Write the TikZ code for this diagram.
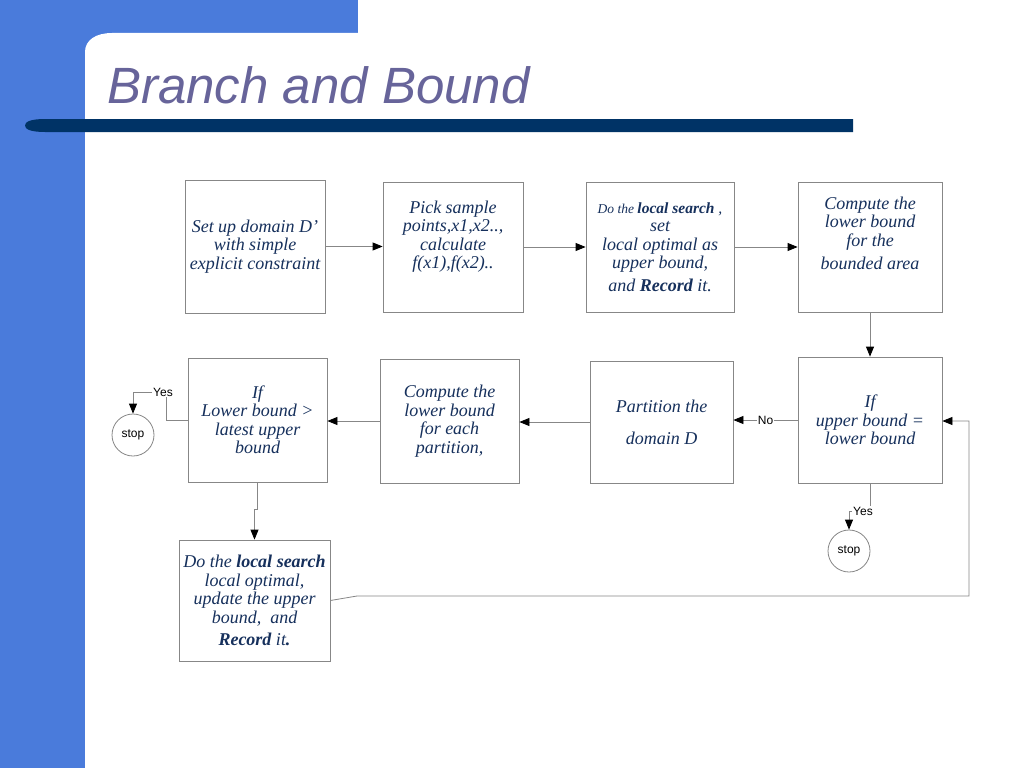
\documentclass[tikz,border=0pt]{standalone}
\usepackage{fontspec}
\setmainfont{Liberation Serif}
\setsansfont{Liberation Sans}
\usetikzlibrary{arrows.meta}
\definecolor{slideblue}{RGB}{74,123,219}
\definecolor{barnavy}{RGB}{0,51,102}
\definecolor{titlegrey}{RGB}{103,100,154}
\definecolor{boxtext}{RGB}{22,48,92}
\definecolor{edge}{RGB}{135,135,135}
\tikzset{box/.style={draw=edge, line width=0.8pt, align=center, text=boxtext, inner sep=0pt,
                     font=\fontsize{18}{18.5}\selectfont\itshape},
         txt/.style={align=center, text=boxtext, inner sep=0pt, font=\fontsize{18}{18.5}\selectfont\itshape},
         stopnode/.style={circle, draw=edge, line width=0.8pt, minimum size=42pt, inner sep=0pt,
                          font=\sffamily\fontsize{12}{14}\selectfont},
         lbl/.style={fill=white, inner sep=1pt, font=\sffamily\fontsize{12}{14}\selectfont},
         link/.style={draw=edge, line width=0.8pt},
         arr/.style={link, -{Triangle[length=10pt,width=8pt,color=black]}}}

\begin{document}
\begin{tikzpicture}[x=1pt,y=-1pt]
  \useasboundingbox (0,0) rectangle (1024,768);
  % slide background
  \fill[slideblue] (0,0) rectangle (85,768);
  \fill[slideblue] (0,0) rectangle (358,60);
  \fill[white] (85,768) -- (85,52) .. controls (85,40) and (96,33) .. (112,33) -- (1024,33) -- (1024,768) -- cycle;
  \fill[barnavy] (853,119) -- (45,119) .. controls (30,119) and (25,122) .. (25,125.5)
                 .. controls (25,129) and (30,132) .. (45,132) -- (853,132) -- cycle;
  \node[font=\sffamily\itshape\fontsize{51}{51}\selectfont, text=titlegrey, anchor=base west, inner sep=0pt]
       (title) at (107,103) {Branch and Bound};
  % first row
  \node[box, minimum width=140pt, minimum height=133pt] (setup) at (255,246.5)
       {Set up domain D’\\with simple\\explicit constraint};
  \node[box, minimum width=140pt, minimum height=130pt] (pick) at (453,247) {};
  \node[txt] (pickt) at (453,236.5) {Pick sample\\points,x1,x2..,\\calculate\\f(x1),f(x2)..};
  \node[box, minimum width=148pt, minimum height=130pt] (search) at (660,247)
       {{\fontsize{13.5}{18}\selectfont Do the }{\fontsize{15.5}{18}\selectfont\bfseries local search }{\fontsize{15.5}{18}\selectfont,}\\set\\
        local optimal as\\upper bound,\\[4.5pt]and \textbf{Record} it.};
  \node[box, minimum width=144pt, minimum height=130pt] (lower) at (870,247) {};
  \node[txt] (lowert) at (870,233) {Compute the\\lower bound\\for the\\[4.5pt]bounded area};
  % second row
  \node[box, minimum width=144pt, minimum height=126pt] (ifu) at (870,420) {If\\upper bound =\\lower bound};
  \node[box, minimum width=143pt, minimum height=122pt] (part) at (661.5,422) {Partition the\\[13.5pt]domain D};
  \node[box, minimum width=139pt, minimum height=124pt] (each) at (449.5,421)
       {Compute the\\lower bound\\for each\\partition,};
  \node[box, minimum width=139pt, minimum height=124pt] (ifl) at (257.5,420)
       {If\\Lower bound >\\latest upper\\bound};
  \node[box, minimum width=151pt, minimum height=121pt] (upd) at (254.5,600.5)
       {Do the \textbf{local search}\\local optimal,\\update the upper\\bound,~ and\\[3.5pt]\textbf{Record} it\textbf{.}};
  \node[stopnode] (stopl) at (133,435) {stop};
  \node[stopnode] (stopr) at (849,551) {stop};
  % connectors
  \draw[arr] (setup.east) -- (setup.east -| pick.west);
  \draw[arr] (pick.east) -- (search.west);
  \draw[arr] (search.east) -- (lower.west);
  \draw[arr] (lower.south) -- (ifu.north);
  \draw[arr] (ifu.west) -- node[lbl] (no) {No} (ifu.west -| part.east);
  \draw[arr] (part.west) -- (part.west -| each.east);
  \draw[arr] (each.west) -- (each.west -| ifl.east);
  \node[lbl] (yesl) at (163,392) {Yes};
  \draw[link] (ifl.west) -| ([xshift=3pt]yesl.south);
  \draw[arr] (yesl.west) -| (stopl.north);
  \draw[arr] (ifl.south) -- ++(0,27) -| (upd.north);
  \node[lbl] (yesr) at (863,511) {Yes};
  \draw[link] (ifu.south) -- (ifu.south |- yesr.north);
  \draw[arr] (yesr.west) -| (stopr.north);
  \coordinate (kink) at (357,596);
  \coordinate (loop) at (969,421);
  \draw[arr] (upd.east) -- (kink) -| (loop) -- (loop -| ifu.east);
\end{tikzpicture}
\end{document}
